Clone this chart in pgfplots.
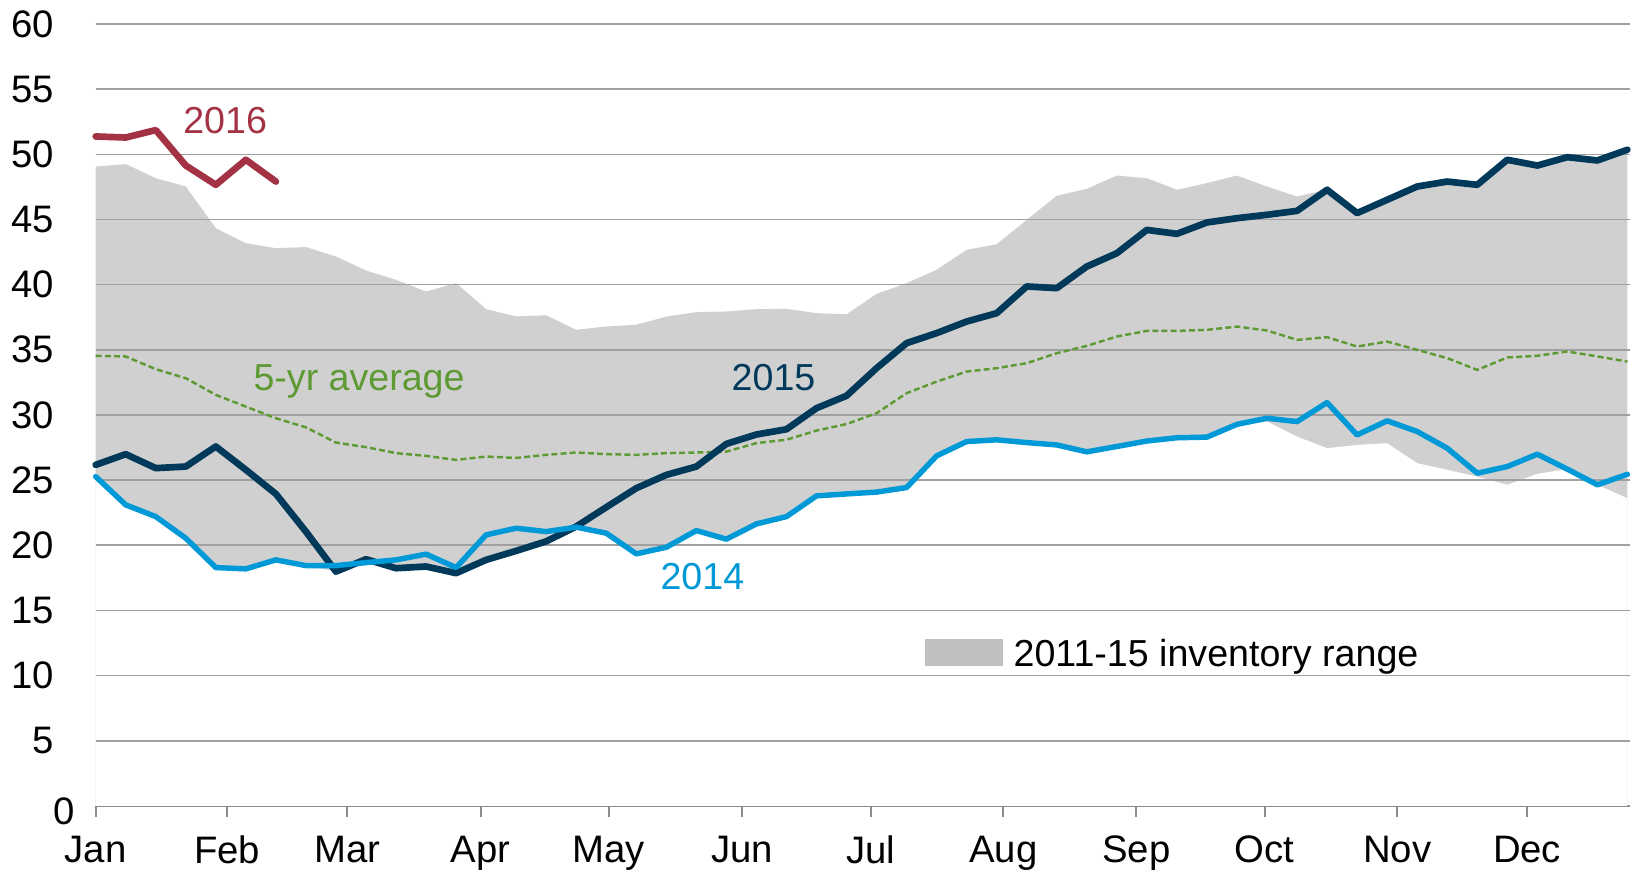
\documentclass[border=0pt]{standalone}
\usepackage{fontspec}
\setmainfont{Liberation Sans}
\usepackage{pgfplots}
\pgfplotsset{compat=1.18}
\usepackage{pgfplotstable}

\definecolor{c2016}{HTML}{A33344}
\definecolor{c2015}{HTML}{00395A}
\definecolor{c2014}{HTML}{0099D8}
\definecolor{cavg}{HTML}{5E9A33}
\definecolor{rangegray}{HTML}{D0D0D0}
\definecolor{keygray}{HTML}{BFBFBF}
\definecolor{gridgray}{HTML}{A0A0A0}
\definecolor{axisgray}{HTML}{8C8C8C}

% weekly stocks, k = week of year (0 = first week of Jan)
\pgfplotstableread{
k lo hi avg y14 y15
0 25.27 49.06 34.54 25.27 26.17
1 23.10 49.25 34.49 23.10 26.99
2 22.20 48.17 33.51 22.20 25.92
3 20.54 47.53 32.82 20.54 26.04
4 18.29 44.33 31.54 18.29 27.58
5 18.19 43.18 30.64 18.19 25.79
6 18.88 42.80 29.75 18.88 23.94
7 18.44 42.88 29.05 18.44 21.05
8 17.98 42.16 27.88 18.44 17.98
9 18.67 41.08 27.53 18.67 18.93
10 18.24 40.37 27.07 18.88 18.24
11 18.37 39.47 26.86 19.32 18.37
12 17.86 40.12 26.55 18.29 17.86
13 18.88 38.12 26.81 20.80 18.88
14 19.57 37.56 26.70 21.31 19.57
15 20.30 37.65 26.94 21.05 20.30
16 21.39 36.53 27.12 21.39 21.44
17 20.93 36.79 26.99 20.93 22.92
18 19.34 36.92 26.94 19.34 24.38
19 19.85 37.55 27.07 19.85 25.40
20 21.13 37.89 27.12 21.13 26.04
21 20.47 37.94 27.19 20.47 27.78
22 21.64 38.12 27.84 21.64 28.50
23 22.20 38.14 28.10 22.20 28.90
24 23.79 37.81 28.80 23.79 30.52
25 23.94 37.73 29.30 23.94 31.47
26 24.08 39.29 30.14 24.08 33.59
27 24.43 40.11 31.67 24.43 35.51
28 26.86 41.14 32.56 26.86 36.28
29 27.90 42.67 33.33 27.96 37.17
30 28.00 43.10 33.59 28.09 37.81
31 27.70 44.97 33.97 27.88 39.86
32 27.50 46.82 34.74 27.70 39.73
33 27.10 47.35 35.30 27.17 41.39
34 27.50 48.37 36.02 27.58 42.41
35 27.90 48.17 36.45 28.00 44.20
36 28.20 47.28 36.45 28.25 43.90
37 28.25 47.79 36.53 28.30 44.77
38 29.20 48.37 36.78 29.28 45.10
39 29.49 47.53 36.48 29.75 45.36
40 28.34 46.76 35.76 29.49 45.66
41 27.45 47.30 35.97 30.95 47.28
42 27.70 45.49 35.25 28.47 45.49
43 27.83 46.51 35.63 29.55 46.51
44 26.30 47.53 35.00 28.73 47.53
45 25.79 47.91 34.36 27.45 47.91
46 25.27 47.66 33.46 25.53 47.66
47 24.64 49.58 34.41 26.04 49.58
48 25.48 49.14 34.54 26.99 49.14
49 25.84 49.78 34.87 25.84 49.78
50 24.64 49.53 34.49 24.64 49.53
51 23.60 50.35 34.10 25.45 50.35
}\stocks

\pgfplotstableread{
k y16
0 51.37
1 51.29
2 51.86
3 49.14
4 47.66
5 49.58
6 47.91
}\ytd

\begin{document}
\begin{tikzpicture}
\path[use as bounding box] (-0.957,-0.65) rectangle (15.415,8.06);
\begin{axis}[at={(0,0)}, anchor=south west, scale only axis,
  width=15.34cm, height=7.82cm,
  xmin=0, xmax=51.07, ymin=0, ymax=60,
  clip=false,
  axis lines*=left,
  y axis line style={draw=none},
  x axis line style={draw=axisgray, line width=0.6pt},
  ytick={5,10,...,60}, ytick style={draw=none},
  xtick={0,4.38,8.38,12.82,17.09,21.53,25.8,30.22,34.65,38.92,43.34,47.66},
  xticklabels={Jan,Feb,Mar,Apr,May,Jun,Jul,Aug,Sep,Oct,Nov,Dec},
  xtick style={draw=axisgray, line width=0.6pt},
  tick align=outside, major tick length=0.107cm,
  tick label style={font=\fontsize{10.9}{12}\selectfont},
  /pgf/number format/assume math mode=true,
  yticklabel style={xshift=-0.186cm},
  xticklabel style={yshift=-0.07cm},
  every axis plot/.append style={line join=round, line cap=round}]

\addplot[draw=none, fill=rangegray] table[x=k, y=hi]{\stocks} \closedcycle;
\addplot[draw=none, fill=white] table[x=k, y=lo]{\stocks} \closedcycle;

% horizontal grid drawn over the range band
\pgfplotsinvokeforeach{5,10,...,60}{
  \draw[gridgray, line width=0.45pt] (axis cs:0,#1) -- (axis cs:51.07,#1);
}

\addplot[cavg, line width=0.7pt, line cap=butt, dash pattern=on 1.7pt off 0.9pt] table[x=k, y=avg]{\stocks};
\addplot[c2015, line width=1.9pt] table[x=k, y=y15]{\stocks};
\addplot[c2014, line width=1.55pt] table[x=k, y=y14]{\stocks};
\addplot[c2016, line width=1.9pt] table[x=k, y=y16]{\ytd};

% the zero label sits apart from the others in the original
\node[font=\fontsize{10.9}{12}\selectfont] at (axis cs:-1.05,-0.38) {0};

\node[c2016, font=\fontsize{10.7}{12}\selectfont] at (axis cs:4.31,52.6) {2016};
\node[cavg, anchor=base, font=\fontsize{10.7}{12}\selectfont] at (axis cs:8.77,31.87) {5-yr average};
\node[c2015, font=\fontsize{10.7}{12}\selectfont] at (axis cs:22.57,32.86) {2015};
\node[c2014, font=\fontsize{10.7}{12}\selectfont] at (axis cs:20.2,17.6) {2014};

\fill[keygray] (axis cs:27.6,10.77) rectangle (axis cs:30.2,12.79);
\node[anchor=base west, inner sep=0pt, font=\fontsize{10.7}{12}\selectfont] at (axis cs:30.54,10.66) {2011-15 inventory range};
\end{axis}
\end{tikzpicture}
\end{document}
